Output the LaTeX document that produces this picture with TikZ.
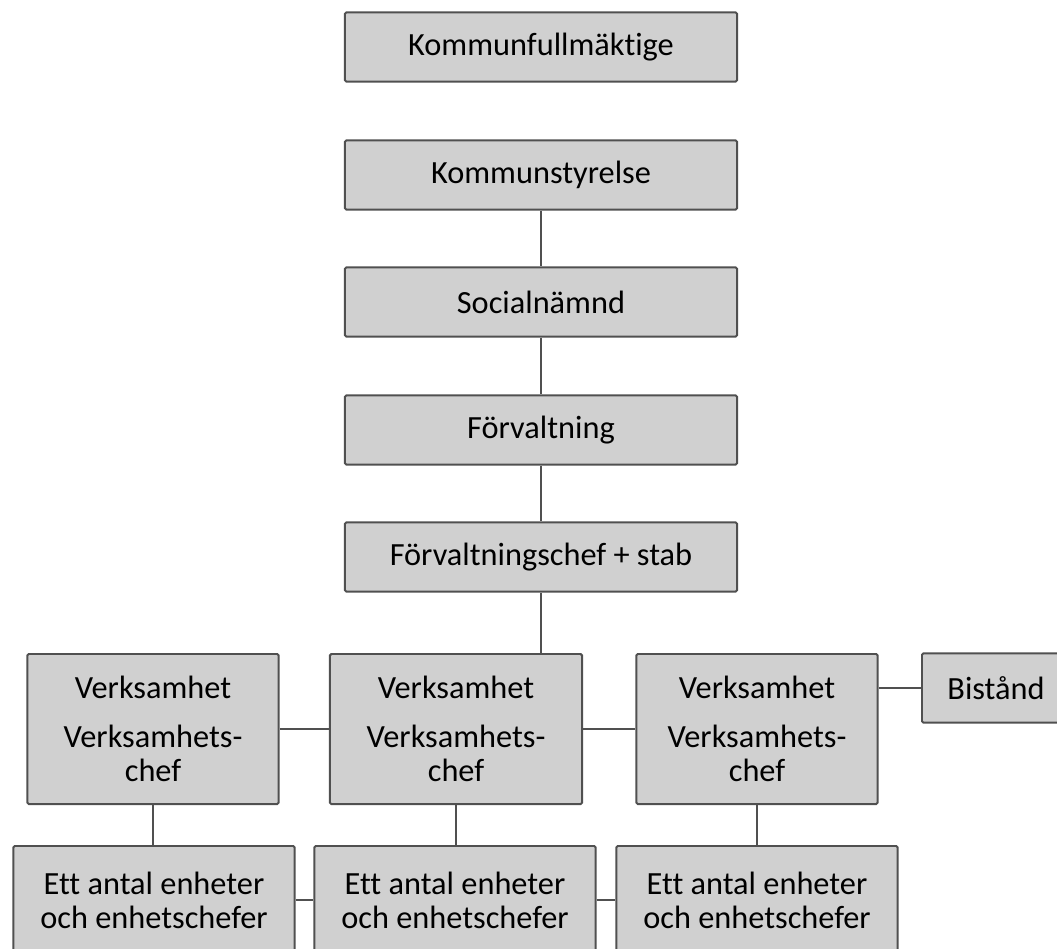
\documentclass[tikz,border=0pt]{standalone}
\usepackage{fontspec}
\setmainfont{Carlito}[Ligatures=NoCommon]

\definecolor{boxfill}{HTML}{D0D0D0}
\definecolor{boxline}{HTML}{505050}

\tikzset{
  orgbox/.style={draw=boxline, fill=boxfill, line width=1.4pt, rounded corners=1pt,
    align=center, inner sep=0pt, font=\fontsize{23}{24}\selectfont},
  topbox/.style={orgbox, minimum width=9.8cm, minimum height=1.73cm},
  verkbox/.style={orgbox, minimum width=6.3cm, minimum height=3.75cm},
  unitbox/.style={orgbox, minimum width=7.03cm, minimum height=2.7cm},
  conn/.style={draw=boxline, line width=1.4pt}
}

\begin{document}
\begin{tikzpicture}[x=0.025cm, y=-0.025cm]

   \useasboundingbox (0,0) rectangle (1057,948);

   \foreach \y/\t/\n in {47/Kommunfullmäktige/KF, 175/Kommunstyrelse/KS, 302/Socialnämnd/SN, 430/Förvaltning/FV, 557/Förvaltningschef + stab/FC}
     \node [topbox] (v\n) at (541,\y) {\t};

   \foreach \x/\n/\w in {153/V1/6.28cm, 456/V2/6.3cm, 757/V3/6.03cm}
     \node [verkbox, minimum width=\w] (v\n) at (\x,729) {Verksamhet\\[11pt]Verksamhets-\\chef};

   \node [orgbox, minimum width=3.7cm, minimum height=1.73cm] (vBI) at (996,688) {Bistånd};

   \foreach \x/\n in {154/E1, 455/E2, 757/E3}
     \node [unitbox] (v\n) at (\x,900) {Ett antal enheter\\och enhetschefer};

    \foreach \i/\j in {KS/SN, SN/FV, FV/FC, V1/V2, V2/V3, E1/E2, E2/E3}
        \draw[conn] (v\i) -- (v\j);

    \foreach \i/\j in {FC/V2, V1/E1, V2/E2, V3/E3}
        \draw[conn] (v\i.south) -- (v\i.south |- v\j.north);

    \draw[conn] (vV3.east |- vBI) -- (vBI.west);

\end{tikzpicture}
\end{document}
